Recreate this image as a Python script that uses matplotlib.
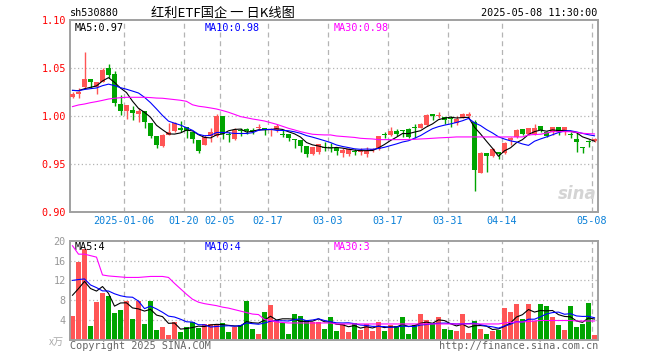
import numpy as np
import pandas as pd
import matplotlib
matplotlib.use('Agg')
import matplotlib.pyplot as plt

# daily K data, 2024-12-23 .. 2025-05-08 (88 trading days)
opens = [1.0201, 1.0233, 1.0309, 1.0389, 1.0302, 1.0361, 1.0503, 1.0441, 1.0128, 1.0056,
         1.0066, 1.0021, 1.0056, 0.9931, 0.9792, 0.9691, 0.9806, 0.9847, 0.9875, 0.9889,
         0.9833, 0.9753, 0.9701, 0.9799, 0.9799, 1.0003, 0.9816, 0.9767, 0.9861, 0.9865,
         0.9858, 0.9882, 0.9875, 0.9858, 0.9858, 0.9819, 0.9813, 0.9764, 0.9750, 0.9691,
         0.9608, 0.9632, 0.9684, 0.9677, 0.9667, 0.9622, 0.9611, 0.9632, 0.9632, 0.9611,
         0.9649, 0.9656, 0.9813, 0.9806, 0.9847, 0.9858, 0.9868, 0.9892, 0.9882, 0.9910,
         1.0021, 1.0000, 0.9990, 0.9979, 0.9927, 0.9986, 1.0003, 0.9938, 0.9413, 0.9622,
         0.9590, 0.9625, 0.9615, 0.9750, 0.9788, 0.9868, 0.9813, 0.9819, 0.9899, 0.9840,
         0.9833, 0.9885, 0.9833, 0.9819, 0.9764, 0.9677, 0.9743, 0.9743]
closes = [1.0229, 1.0257, 1.0389, 1.0354, 1.0354, 1.0486, 1.0431, 1.0142, 1.0059, 1.0118,
          1.0038, 1.0056, 0.9938, 0.9799, 0.9701, 0.9806, 0.9840, 0.9927, 0.9861, 0.9847,
          0.9764, 0.9642, 0.9788, 0.9833, 1.0003, 0.9813, 0.9806, 0.9861, 0.9851, 0.9851,
          0.9844, 0.9892, 0.9861, 0.9861, 0.9896, 0.9806, 0.9771, 0.9753, 0.9694, 0.9611,
          0.9684, 0.9712, 0.9674, 0.9667, 0.9642, 0.9649, 0.9656, 0.9625, 0.9639, 0.9642,
          0.9656, 0.9795, 0.9802, 0.9844, 0.9816, 0.9847, 0.9788, 0.9882, 0.9917, 1.0014,
          1.0003, 1.0010, 0.9958, 0.9969, 0.9972, 1.0024, 1.0024, 0.9441, 0.9622, 0.9590,
          0.9656, 0.9608, 0.9726, 0.9778, 0.9858, 0.9816, 0.9875, 0.9875, 0.9858, 0.9799,
          0.9885, 0.9840, 0.9885, 0.9809, 0.9729, 0.9667, 0.9733, 0.9764]
highs = [1.0257, 1.0299, 1.0674, 1.0389, 1.0361, 1.0500, 1.0545, 1.0472, 1.0222, 1.0118,
         1.0111, 1.0083, 1.0056, 0.9931, 0.9792, 0.9813, 0.9927, 0.9938, 0.9951, 0.9889,
         0.9833, 0.9753, 0.9806, 0.9875, 1.0024, 1.0003, 0.9840, 0.9875, 0.9875, 0.9882,
         0.9875, 0.9917, 0.9875, 0.9875, 0.9917, 0.9858, 0.9813, 0.9764, 0.9750, 0.9691,
         0.9684, 0.9712, 0.9736, 0.9722, 0.9667, 0.9667, 0.9667, 0.9660, 0.9667, 0.9677,
         0.9667, 0.9795, 0.9840, 0.9889, 0.9865, 0.9858, 0.9875, 0.9917, 0.9927, 1.0024,
         1.0021, 1.0042, 0.9997, 1.0007, 1.0003, 1.0038, 1.0042, 0.9962, 0.9632, 0.9622,
         0.9667, 0.9625, 0.9736, 0.9788, 0.9868, 0.9868, 0.9882, 0.9920, 0.9899, 0.9847,
         0.9892, 0.9885, 0.9885, 0.9833, 0.9840, 0.9684, 0.9753, 0.9771]
lows = [1.0190, 1.0194, 1.0300, 1.0292, 1.0229, 1.0361, 1.0403, 1.0108, 1.0014, 0.9969,
        0.9962, 0.9944, 0.9882, 0.9771, 0.9674, 0.9680, 0.9806, 0.9840, 0.9840, 0.9778,
        0.9719, 0.9622, 0.9701, 0.9729, 0.9788, 0.9764, 0.9736, 0.9753, 0.9799, 0.9813,
        0.9820, 0.9858, 0.9806, 0.9799, 0.9840, 0.9788, 0.9743, 0.9674, 0.9625, 0.9580,
        0.9597, 0.9608, 0.9639, 0.9625, 0.9597, 0.9580, 0.9590, 0.9597, 0.9597, 0.9580,
        0.9625, 0.9649, 0.9778, 0.9799, 0.9795, 0.9788, 0.9778, 0.9771, 0.9875, 0.9903,
        0.9962, 0.9986, 0.9917, 0.9892, 0.9910, 0.9979, 0.9986, 0.9222, 0.9406, 0.9424,
        0.9580, 0.9556, 0.9604, 0.9701, 0.9771, 0.9806, 0.9806, 0.9806, 0.9840, 0.9788,
        0.9806, 0.9806, 0.9806, 0.9778, 0.9632, 0.9615, 0.9684, 0.9736]
# volume, 万 shares
volumes = [4.8, 15.7, 18.3, 2.8, 7.6, 9.4, 8.8, 5.4, 6.0, 7.8,
           4.2, 7.8, 3.2, 7.8, 2.0, 2.6, 1.0, 3.6, 1.6, 2.6,
           3.6, 2.4, 3.2, 3.2, 3.2, 3.4, 1.6, 2.6, 3.0, 7.8,
           2.2, 1.2, 5.6, 7.0, 4.0, 3.4, 1.2, 5.2, 4.8, 4.0,
           3.6, 3.6, 2.2, 4.6, 1.7, 3.1, 1.6, 3.4, 2.0, 3.1,
           1.8, 3.6, 1.8, 2.9, 2.8, 4.6, 1.2, 2.9, 5.2, 4.0,
           3.4, 4.6, 2.2, 2.0, 1.8, 5.2, 1.4, 3.8, 2.2, 1.2,
           1.8, 2.0, 6.4, 5.6, 7.2, 4.2, 7.2, 3.8, 7.2, 6.8,
           4.6, 3.0, 2.0, 6.8, 2.6, 3.2, 7.4, 1.0]
# last closes / volumes before the window (estimated from the MA start levels)
pre_close = [1.029, 1.026, 1.027, 1.028, 1.025, 1.027, 1.029, 1.028, 1.028]
pre_vol = [14, 17, 15, 13, 16, 9, 11, 10, 10.2]
# MA30 lines
ma30_price = [1.0101, 1.0118, 1.0128, 1.0142, 1.0153, 1.0166, 1.0180, 1.0188, 1.0194, 1.0198,
              1.0198, 1.0198, 1.0198, 1.0195, 1.0190, 1.0188, 1.0181, 1.0174, 1.0167, 1.0156,
              1.0120, 1.0105, 1.0097, 1.0087, 1.0076, 1.0060, 1.0042, 1.0020, 0.9997, 0.9985,
              0.9972, 0.9962, 0.9951, 0.9934, 0.9917, 0.9896, 0.9875, 0.9858, 0.9840, 0.9826,
              0.9813, 0.9809, 0.9806, 0.9806, 0.9795, 0.9790, 0.9785, 0.9780, 0.9771, 0.9767,
              0.9764, 0.9757, 0.9757, 0.9757, 0.9757, 0.9757, 0.9757, 0.9760, 0.9764, 0.9767,
              0.9771, 0.9775, 0.9778, 0.9781, 0.9785, 0.9785, 0.9785, 0.9785, 0.9785, 0.9785,
              0.9785, 0.9785, 0.9785, 0.9785, 0.9785, 0.9785, 0.9806, 0.9810, 0.9813, 0.9826,
              0.9840, 0.9840, 0.9840, 0.9840, 0.9833, 0.9823, 0.9819, 0.9816]
ma30_vol = [19.0, 17.3, 17.3, 17.0, 16.7, 13.1, 12.9, 12.8, 12.7, 12.6,
            12.6, 12.6, 12.7, 12.8, 12.8, 12.8, 12.6, 11.4, 10.3, 9.2,
            8.2, 7.6, 7.3, 7.1, 6.9, 6.6, 6.4, 6.1, 5.8, 5.5,
            5.2, 5.1, 4.1, 3.9, 3.6, 3.5, 3.4, 3.4, 3.4, 3.4,
            3.4, 3.4, 3.4, 3.4, 3.2, 3.2, 3.2, 3.2, 3.2, 3.2,
            3.2, 3.2, 3.2, 3.2, 3.2, 3.2, 3.2, 3.2, 3.2, 3.2,
            3.2, 3.2, 3.2, 3.2, 3.2, 3.2, 3.2, 3.2, 3.2, 3.2,
            3.2, 3.2, 3.4, 3.5, 3.6, 3.6, 3.7, 3.8, 3.9, 3.9,
            3.9, 3.9, 3.9, 3.9, 3.8, 3.8, 3.8, 3.8]
tick_idx = [9, 19, 25, 33, 43, 53, 63, 72, 87]
tick_labels = ['2025-01-06', '01-20', '02-05', '02-17', '03-03', '03-17', '03-31', '04-14', '05-08']

RED = '#ff5555'
GREEN = '#00a400'
GRID = '#b4b4b4'
MONO = 'DejaVu Sans Mono'

n = len(closes)
x = np.arange(n)
o = np.array(opens)
c = np.array(closes)
up = c >= o
cols = [RED if u else GREEN for u in up]

cs = pd.Series(pre_close + closes)
vs = pd.Series(pre_vol + volumes)
k = len(pre_close)
ma5 = cs.rolling(5).mean().values[k:]
ma10 = cs.rolling(10).mean().values[k:]
vma5 = vs.rolling(5).mean().values[k:]
vma10 = vs.rolling(10).mean().values[k:]

W, H = 660, 360
fig = plt.figure(figsize=(6.6, 3.6), dpi=100)
fig.patch.set_facecolor('white')


def px(xp, yp):
    return xp / W, 1 - yp / H


ax = fig.add_axes([70 / W, 1 - 212.3 / H, 528 / W, 192 / H])
axv = fig.add_axes([70 / W, 1 - 339.8 / H, 528 / W, 99 / H])

for a in (ax, axv):
    a.set_xlim(-0.4167, n - 0.4167)
    for s in a.spines.values():
        s.set_color('#a0a0a0')
        s.set_linewidth(1.4)
    a.tick_params(length=0)
    for t in tick_idx:
        a.axvline(t - 0.4, color=GRID, lw=0.9, ls=(0, (4, 3)), zorder=0)

# price panel
ax.set_ylim(0.90, 1.10)
for yv in (0.95, 1.00, 1.05):
    ax.axhline(yv, color=GRID, lw=0.9, ls=(0, (1, 2)), zorder=0)
ax.vlines(x, lows, highs, colors=cols, lw=1.0, zorder=2)
body = np.maximum(np.abs(c - o), 0.0011)
ax.bar(x, body, bottom=np.minimum(o, c), width=0.83, color=cols, lw=0, zorder=3)
ax.plot(x, ma5, color='black', lw=0.8, zorder=4)
ax.plot(x, ma10, color='#0000ff', lw=0.8, zorder=4)
ax.plot(x, ma30_price, color='#ff00ff', lw=0.8, zorder=4)
ax.set_yticks([0.90, 0.95, 1.00, 1.05, 1.10])
ax.set_yticklabels(['%.2f' % v for v in [0.90, 0.95, 1.00, 1.05, 1.10]],
                   color='red', fontsize=7.3, family=MONO)
ax.set_xticks([t - 0.4 for t in tick_idx])
ax.set_xticklabels(tick_labels, color='#0a80d8', fontsize=7.3, family=MONO)
ax.tick_params(axis='y', pad=3)
ax.tick_params(axis='x', pad=3)

ax.text(0.008, 0.985, 'MA5:%.2f' % ma5[-1], transform=ax.transAxes, va='top',
        fontsize=7.3, family=MONO, color='black')
ax.text(0.255, 0.985, 'MA10:%.2f' % ma10[-1], transform=ax.transAxes, va='top',
        fontsize=7.3, family=MONO, color='#0000ff')
ax.text(0.5, 0.985, 'MA30:%.2f' % ma30_price[-1], transform=ax.transAxes, va='top',
        fontsize=7.3, family=MONO, color='#ff00ff')
ax.text(0.997, 0.05, 'sina', transform=ax.transAxes, ha='right', va='bottom',
        fontsize=12, fontweight='bold', style='italic', color='#d4d4d4', zorder=1)

# volume panel
axv.set_ylim(0, 20)
for yv in (4, 8, 12, 16):
    axv.axhline(yv, color=GRID, lw=0.9, ls=(0, (1, 2)), zorder=0)
axv.bar(x, volumes, width=0.83, color=cols, lw=0, zorder=2)
axv.plot(x, vma5, color='black', lw=0.8, zorder=4)
axv.plot(x, vma10, color='#0000ff', lw=0.8, zorder=4)
axv.plot(x, ma30_vol, color='#ff00ff', lw=0.8, zorder=4)
axv.set_yticks([4, 8, 12, 16, 20])
axv.set_yticklabels(['4', '8', '12', '16', '20'], color='#999999', fontsize=7.3, family=MONO)
axv.tick_params(axis='y', pad=3)
axv.set_xticks([])
axv.text(0.008, 0.985, 'MA5:%d' % int(vma5[-1]), transform=axv.transAxes, va='top',
         fontsize=7.3, family=MONO, color='black')
axv.text(0.255, 0.985, 'MA10:%d' % int(vma10[-1]), transform=axv.transAxes, va='top',
         fontsize=7.3, family=MONO, color='#0000ff')
axv.text(0.5, 0.985, 'MA30:%d' % int(ma30_vol[-1]), transform=axv.transAxes, va='top',
         fontsize=7.3, family=MONO, color='#ff00ff')

# header and footer texts
fig.text(*px(70, 13), 'sh530880', fontsize=7.3, family=MONO, va='center', color='black')
fig.text(*px(223, 13), '红利ETF国企 一 日K线图', fontsize=9.5, ha='center', va='center',
         family=['Noto Sans CJK SC', 'DejaVu Sans'], color='black')
fig.text(*px(597, 13), '2025-05-08 11:30:00', fontsize=7.3, family=MONO, ha='right',
         va='center', color='black')
fig.text(*px(64, 342), 'x万', fontsize=7.3, ha='right', va='center', color='#aaaaaa',
         family=['Noto Sans CJK SC', 'DejaVu Sans'])
fig.text(*px(70, 346), 'Copyright 2025 SINA.COM', fontsize=7.3, family=MONO,
         va='center', color='#666666')
fig.text(*px(598, 346), 'http://finance.sina.com.cn', fontsize=7.3, family=MONO,
         ha='right', va='center', color='#666666')

fig.savefig('out.png', dpi=100, facecolor='white')
